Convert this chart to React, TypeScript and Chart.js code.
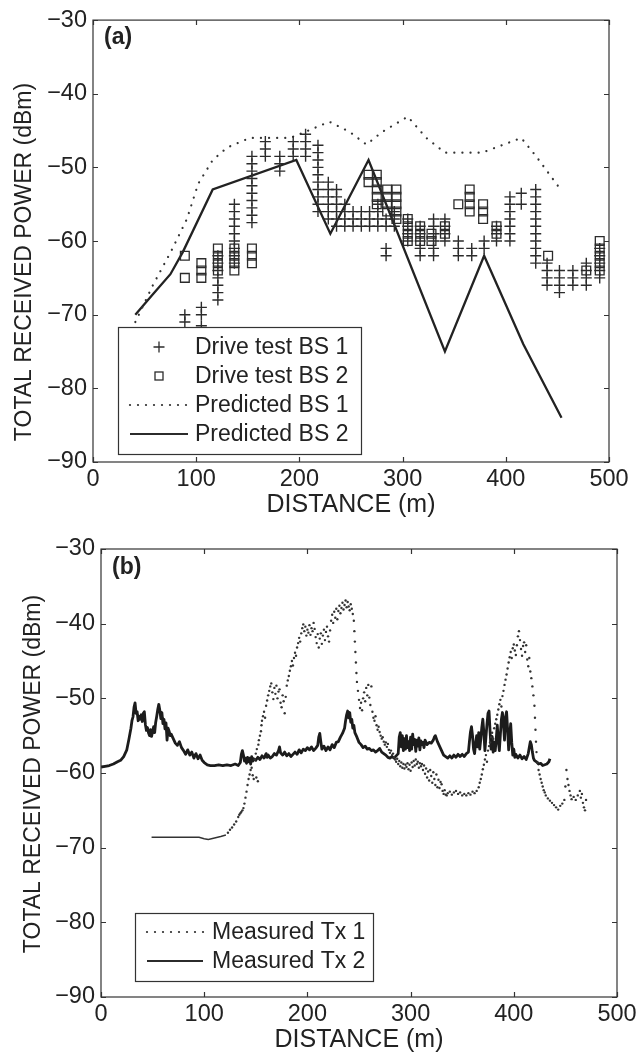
import React, { useEffect, useRef } from "react";
import { Chart, registerables } from "chart.js";
Chart.register(...registerables);

const FONT = '"Liberation Sans", Arial, Helvetica, sans-serif';
const INK = "#222";

// ---------- axes ----------
const distanceTicks = [0, 100, 200, 300, 400, 500];
const powerTicks = [-90, -80, -70, -60, -50, -40, -30];
const xTitle = "DISTANCE (m)";
const yTitle = "TOTAL RECEIVED POWER (dBm)";

// ---------- panel (a) ----------
const driveTestBS1Columns: [number, number[]][] = [
  [89, [-70, -71]],
  [105, [-69, -70, -71.5]],
  [121, [-62, -63, -64, -65, -66, -67, -68]],
  [137, [-55, -56, -57, -58, -59, -60, -61, -62, -63]],
  [154, [-48.5, -49.5, -50.5, -51.5, -52.5, -53.5, -54.5, -55.5, -56.5, -57.5]],
  [167, [-46.5, -47.5, -48.5]],
  [181, [-48.5, -49.5, -50.5]],
  [194, [-46.5, -47.5, -48.5]],
  [206, [-45.5, -46.5, -47.5, -48.5]],
  [218, [-47, -48, -49, -50, -51, -52, -53, -54, -55, -56]],
  [228, [-52, -53, -54, -55, -56, -57]],
  [236, [-53, -54, -55, -56, -57, -58]],
  [244, [-55, -56, -57, -58]],
  [252, [-56, -57, -58]],
  [260, [-56, -57, -58]],
  [268, [-56, -57, -58]],
  [276, [-55, -56, -57, -58]],
  [284, [-57, -58, -61, -62]],
  [292, [-56, -57, -58]],
  [305, [-57, -58, -59, -60]],
  [317, [-58, -59, -60, -61, -62]],
  [330, [-57, -58, -59, -60, -61, -62]],
  [341, [-57, -58, -59, -60]],
  [354, [-60, -61, -62]],
  [367, [-61, -62]],
  [379, [-60, -61]],
  [391, [-58, -59, -60]],
  [404, [-54, -55, -56, -57, -58, -59, -60]],
  [415, [-53.5, -55]],
  [429, [-53, -54, -55, -56, -57, -58, -59, -60, -61, -62, -63]],
  [440, [-63, -64, -65, -66]],
  [452, [-64, -65, -66, -67]],
  [465, [-64, -65, -66]],
  [478, [-63, -64, -65, -66]],
  [491, [-61, -62, -63, -64, -65]],
];

const driveTestBS2Columns: [number, number[]][] = [
  [89, [-62, -65]],
  [105, [-63, -64, -65]],
  [121, [-61, -62, -63, -64]],
  [137, [-61, -62, -63, -64]],
  [154, [-61, -62, -63]],
  [267, [-51, -52]],
  [275, [-51, -52, -53, -54, -55]],
  [285, [-53, -54, -55, -56]],
  [294, [-53, -54, -55, -56, -57]],
  [305, [-57, -58, -59, -60]],
  [317, [-58, -59, -60]],
  [328, [-59, -60]],
  [341, [-58, -59]],
  [354, [-55]],
  [365, [-53, -54, -55, -56]],
  [378, [-55, -56, -57]],
  [391, [-58, -59]],
  [441, [-62]],
  [478, [-64]],
  [491, [-60, -61, -62, -63, -64]],
];

const predictedBS1Distance = [41, 58, 76, 91, 102, 116, 130, 152, 191, 207, 229, 249, 265, 280, 305, 323, 341, 377, 415, 430, 451];
const predictedBS1Power = [-71, -66, -61.3, -57, -52.2, -49, -47.3, -46, -46, -45.1, -43.8, -45.2, -46.9, -45.2, -43.1, -46, -48, -48, -46, -48.6, -52.6];

const predictedBS2Distance = [41, 57, 75, 87, 116, 197, 230, 267, 341, 379, 417, 454];
const predictedBS2Power = [-70, -67.4, -64.5, -61.5, -53, -49, -59, -49, -75, -62, -74, -84];

// ---------- panel (b) ----------
const measuredTx1Flat: [number, number][] = [
  [49, -68.6], [70, -68.6], [95, -68.6], [100, -68.8], [104, -68.9], [110, -68.7], [116, -68.5], [121, -68.3],
];

const measuredTx1: [number, number][] = [
  [123, -68.0], [125, -67.6], [127, -67.3], [129, -66.9], [131, -66.5], [133, -65.9], [134, -65.6], [135, -65.4],
  [136, -65.2], [137, -65.0], [138, -64.7], [139, -64.1], [140, -63.3], [141, -62.5], [142, -61.6], [143, -60.8],
  [144, -60.2], [145, -59.6], [146, -59.3], [147, -60.3], [148, -60.8], [149, -58.2], [150, -57.4], [150.5, -60.6],
  [151, -56.8], [152, -61.1], [152.5, -56.2], [153, -55.6], [154, -55.0], [155, -54.4], [155.5, -53.6], [156, -53.0],
  [157, -52.4], [158, -51.8], [159, -52.6], [160, -51.0], [161, -50.3], [162, -49.6], [163, -49.0], [164, -48.4],
  [165, -48.0], [166, -49.2], [167, -50.1], [168, -48.6], [169, -49.4], [170, -48.3], [171, -50.0], [172, -49.1],
  [173, -48.8], [174, -50.6], [175, -51.2], [176, -49.6], [177, -50.4], [178, -52.0], [179, -49.8], [180, -48.3],
  [181, -47.6], [182, -47.0], [183, -46.3], [184, -45.7], [185, -45.0], [186, -45.6], [187, -44.6], [188, -43.9],
  [189, -44.3], [190, -43.2], [191, -42.6], [192, -41.9], [193, -42.4], [194, -41.3], [195, -40.6], [196, -40.1],
  [197, -41.0], [198, -40.4], [199, -41.6], [200, -40.8], [201, -41.2], [202, -40.2], [203, -41.5], [204, -40.6],
  [205, -41.0], [206, -39.9], [207, -40.7], [208, -41.8], [209, -42.6], [210, -41.4], [211, -43.2], [212, -42.0],
  [213, -41.3], [214, -42.7], [215, -41.6], [216, -40.8], [217, -42.2], [218, -41.1], [219, -40.4], [220, -41.7],
  [221, -42.4], [222, -40.9], [223, -39.6], [224, -38.8], [225, -39.9], [226, -38.4], [227, -39.2], [228, -38.0],
  [229, -39.4], [230, -38.3], [231, -37.6], [232, -38.6], [233, -37.9], [234, -37.2], [235, -38.1], [236, -37.5],
  [237, -36.9], [238, -37.8], [239, -37.1], [240, -37.7], [241, -38.2], [242, -37.4], [243, -38.0], [244, -38.7],
  [245, -39.6], [245.5, -41.0], [246, -42.4], [246.5, -43.8], [247, -45.2], [247.5, -46.6], [248, -47.8], [249, -49.0],
  [250, -50.2], [251, -51.3], [252, -50.6], [253, -51.6], [254, -50.0], [255, -49.2], [256, -50.4], [257, -48.6],
  [258, -49.6], [259, -48.2], [260, -49.9], [261, -50.9], [262, -48.4], [263, -51.8], [264, -52.6], [265, -53.0],
  [266, -52.4], [267, -53.6], [268, -54.2], [269, -53.8], [270, -54.5], [271, -55.0], [272, -55.4], [273, -55.2],
  [274, -55.8], [275, -56.2], [276, -55.9], [277, -56.5], [278, -56.1], [279, -56.9], [280, -57.3], [281, -57.0],
  [282, -57.6], [283, -57.4], [284, -57.9], [285, -58.2], [286, -58.5], [287, -58.1], [288, -58.8], [289, -58.4],
  [290, -59.1], [291, -58.6], [292, -59.3], [293, -58.8], [294, -59.4], [295, -58.9], [296, -59.2], [297, -58.7],
  [298, -59.5], [299, -58.9], [300, -59.7], [301, -58.6], [302, -59.2], [303, -58.4], [304, -59.0], [305, -58.2],
  [306, -58.8], [307, -58.5], [308, -59.3], [309, -58.7], [310, -59.1], [311, -58.8], [312, -59.6], [313, -59.0],
  [314, -60.1], [315, -59.4], [316, -60.6], [317, -59.8], [318, -61.0], [319, -59.6], [320, -60.4], [321, -61.3],
  [322, -59.9], [323, -60.8], [324, -61.6], [325, -60.2], [326, -61.9], [327, -60.9], [328, -62.0], [329, -61.2],
  [330, -61.5], [331, -62.4], [332, -62.8], [333, -62.3], [334, -62.9], [335, -63.0], [336, -62.7], [338, -62.5],
  [340, -62.9], [342, -62.6], [344, -62.4], [346, -62.8], [348, -62.6], [350, -63.0], [352, -62.8], [354, -63.0],
  [356, -62.7], [358, -62.9], [360, -62.5], [362, -62.7], [364, -62.4], [366, -61.9], [367, -61.3], [368, -60.8],
  [369, -60.2], [370, -59.5], [371, -58.9], [372, -58.2], [373, -57.6], [374, -58.5], [375, -57.0], [376, -56.4],
  [377, -55.9], [378, -55.2], [379, -54.6], [380, -55.4], [381, -54.0], [382, -53.4], [383, -52.8], [384, -52.2],
  [385, -51.5], [386, -50.8], [387, -50.2], [388, -51.1], [389, -49.7], [390, -49.0], [391, -48.2], [392, -47.5],
  [393, -46.8], [394, -46.0], [395, -45.2], [396, -44.5], [397, -43.8], [398, -44.6], [399, -43.3], [400, -42.8],
  [401, -43.6], [402, -44.2], [403, -42.9], [404, -41.7], [405, -41.0], [406, -42.2], [407, -43.4], [408, -44.3],
  [409, -43.0], [410, -42.5], [411, -43.8], [412, -42.9], [413, -44.8], [414, -45.7], [415, -44.6], [416, -46.4],
  [417, -47.3], [418, -48.4], [419, -49.6], [420, -51.0], [420.5, -52.6], [421, -54.2], [421.5, -55.8], [422, -57.2],
  [423, -58.6], [424, -59.6], [425, -60.2], [426, -60.8], [427, -61.3], [428, -61.8], [429, -62.3], [430, -62.6],
  [431, -63.0], [433, -63.4], [435, -63.7], [437, -64.0], [439, -64.3], [441, -64.6], [443, -64.9], [445, -64.4],
  [447, -64.1], [449, -63.6], [450, -61.8], [451, -59.6], [452, -60.8], [453, -61.6], [454, -62.4], [455, -63.0],
  [456, -63.5], [458, -63.2], [460, -63.6], [462, -63.0], [464, -62.4], [465, -63.3], [466, -62.8], [467, -64.0],
  [468, -64.6], [469, -65.0], [470, -63.6],
];

const measuredTx2: [number, number][] = [
  [0, -59.2], [4, -59.1], [8, -59.0], [12, -58.8], [16, -58.5], [19, -58.3], [22, -57.8], [25, -56.9], [27, -55.5],
  [29, -54.0], [30, -53.0], [31, -52.5], [32, -51.2], [33, -50.6], [34, -52.0], [35, -51.8], [36, -53.0], [37, -52.4],
  [38, -52.8], [39, -52.2], [40, -53.1], [41, -52.0], [42, -51.8], [43, -53.5], [44, -54.3], [45, -53.9], [46, -54.6],
  [47, -55.0], [48, -54.2], [49, -55.1], [50, -54.4], [51, -53.8], [52, -54.6], [53, -53.2], [54, -52.4], [55, -51.5],
  [56, -50.8], [57, -51.6], [58, -52.7], [59, -51.9], [60, -53.4], [61, -52.8], [62, -54.1], [63, -53.3], [64, -55.6],
  [65, -54.0], [66, -54.4], [67, -55.0], [68, -54.8], [70, -55.4], [72, -56.0], [74, -56.3], [76, -55.8], [78, -56.6],
  [80, -57.0], [82, -57.5], [84, -56.9], [86, -57.6], [88, -57.2], [90, -58.0], [92, -57.4], [94, -58.1], [96, -57.6],
  [98, -58.3], [100, -58.6], [103, -58.9], [106, -59.0], [110, -59.0], [114, -58.9], [118, -59.0], [122, -58.9],
  [126, -59.0], [130, -58.8], [133, -59.0], [135, -58.6], [136, -57.5], [137, -57.0], [138, -57.6], [139, -58.4],
  [140, -58.0], [141, -58.7], [142, -57.9], [143, -58.5], [144, -58.0], [145, -58.8], [146, -57.8], [147, -58.4],
  [148, -58.1], [150, -58.3], [152, -57.9], [154, -58.2], [156, -57.7], [158, -58.0], [160, -57.4], [161, -57.9],
  [162, -57.6], [164, -58.0], [166, -57.8], [168, -57.4], [170, -57.6], [172, -57.0], [173, -56.5], [174, -57.3],
  [176, -57.6], [178, -57.2], [180, -57.7], [182, -57.4], [184, -57.8], [186, -57.5], [188, -57.2], [190, -57.5],
  [192, -56.9], [194, -57.3], [196, -56.8], [198, -57.0], [200, -56.6], [202, -56.9], [204, -56.5], [206, -57.0],
  [208, -56.7], [210, -56.3], [211, -55.2], [212, -54.7], [213, -55.8], [214, -56.8], [216, -56.4], [218, -57.0],
  [220, -56.5], [222, -56.9], [224, -56.2], [226, -56.6], [228, -55.9], [230, -55.8], [232, -55.2], [234, -54.7],
  [236, -54.0], [237, -53.0], [238, -52.2], [239, -51.7], [240, -52.6], [241, -51.9], [242, -53.2], [243, -52.8],
  [244, -54.0], [245, -53.6], [246, -54.6], [248, -55.2], [250, -55.9], [252, -56.2], [254, -56.6], [256, -56.4],
  [258, -56.8], [260, -56.7], [262, -57.0], [264, -56.9], [266, -57.2], [268, -57.0], [270, -56.7], [272, -57.2],
  [274, -57.4], [276, -57.6], [278, -57.9], [280, -58.0], [282, -57.8], [284, -58.0], [286, -57.7], [288, -57.4],
  [289, -55.2], [290, -54.6], [291, -56.5], [292, -55.0], [293, -57.0], [294, -55.4], [295, -56.8], [296, -55.0],
  [297, -56.6], [298, -55.8], [299, -57.0], [300, -55.2], [301, -56.8], [302, -54.8], [303, -56.2], [304, -55.5],
  [305, -57.1], [306, -55.6], [307, -56.4], [308, -55.3], [309, -56.9], [310, -55.7], [311, -56.2], [312, -55.9],
  [313, -56.6], [314, -55.6], [316, -56.2], [318, -55.9], [320, -56.0], [322, -55.6], [323, -55.2], [324, -55.0],
  [325, -55.4], [326, -55.8], [328, -56.4], [330, -57.0], [332, -57.6], [334, -57.8], [336, -58.0], [338, -57.7],
  [340, -58.0], [342, -57.6], [344, -57.9], [346, -57.5], [348, -57.8], [350, -57.5], [352, -57.8], [354, -57.4],
  [356, -57.2], [357, -55.8], [358, -54.5], [359, -53.8], [360, -55.0], [361, -56.8], [362, -57.4], [363, -56.0],
  [364, -55.0], [365, -56.5], [366, -54.6], [367, -56.8], [368, -55.5], [369, -53.9], [370, -52.8], [371, -54.6],
  [372, -57.0], [373, -55.2], [374, -53.5], [375, -52.0], [376, -51.7], [377, -54.4], [378, -56.8], [379, -55.1],
  [380, -57.2], [381, -55.9], [382, -57.0], [383, -55.4], [384, -53.6], [385, -55.8], [386, -57.0], [387, -54.8],
  [388, -52.8], [389, -51.9], [390, -53.5], [391, -55.6], [392, -52.5], [393, -51.8], [394, -54.2], [395, -56.9],
  [396, -55.0], [397, -53.4], [398, -55.9], [399, -57.6], [400, -56.8], [401, -57.9], [402, -57.5], [404, -58.0],
  [406, -57.6], [408, -58.1], [410, -57.8], [412, -58.2], [414, -57.4], [415, -56.6], [416, -55.8], [417, -56.2],
  [418, -57.2], [419, -58.0], [420, -58.3], [422, -58.5], [424, -58.8], [426, -58.7], [428, -59.0], [430, -58.9],
  [432, -58.8], [434, -58.5], [435, -58.1],
];

// ---------- helpers ----------
const toPoints = (xs: number[], ys: number[]) => xs.map((x, i) => ({ x, y: ys[i] }));
const pairsToPoints = (p: [number, number][]) => p.map(([x, y]) => ({ x, y }));
const columnsToPoints = (cols: [number, number[]][]) => {
  const out: { x: number; y: number }[] = [];
  cols.forEach(([x, ys]) => ys.forEach((y) => out.push({ x, y })));
  return out;
};
const minusLabel = (v: any) => String(v).replace("-", "\u2212");

type LegendRow = { type: "cross" | "square" | "dotted" | "solid"; text: string; y: number };

const framePlugin = {
  id: "frame",
  afterDatasetsDraw(chart: any, _args: any, opts: any) {
    const { ctx, chartArea: a, scales } = chart;
    ctx.save();
    ctx.strokeStyle = "#333";
    ctx.lineWidth = 1.2;
    ctx.strokeRect(a.left, a.top, a.right - a.left, a.bottom - a.top);
    const tl = 5;
    ctx.beginPath();
    distanceTicks.forEach((v) => {
      const x = Math.round(scales.x.getPixelForValue(v)) + 0.5;
      ctx.moveTo(x, a.bottom);
      ctx.lineTo(x, a.bottom - tl);
      ctx.moveTo(x, a.top);
      ctx.lineTo(x, a.top + tl);
    });
    powerTicks.forEach((v) => {
      const y = Math.round(scales.y.getPixelForValue(v)) + 0.5;
      ctx.moveTo(a.left, y);
      ctx.lineTo(a.left + tl, y);
      ctx.moveTo(a.right, y);
      ctx.lineTo(a.right - tl, y);
    });
    ctx.stroke();

    // y-axis title (placed like the figure, not strictly centred)
    ctx.fillStyle = INK;
    ctx.font = `23px ${FONT}`;
    ctx.textAlign = "center";
    ctx.textBaseline = "middle";
    ctx.save();
    ctx.translate(opts.yTitleX, opts.yTitleY);
    ctx.rotate(-Math.PI / 2);
    ctx.fillText(yTitle, 0, 0);
    ctx.restore();

    // panel label
    ctx.fillStyle = INK;
    ctx.font = `bold 23px ${FONT}`;
    ctx.textBaseline = "middle";
    ctx.textAlign = "left";
    ctx.fillText(opts.label, a.left + 11, a.top + opts.labelDy);

    // legend
    const L = opts.legend;
    ctx.fillStyle = "#fff";
    ctx.fillRect(L.x, L.y, L.w, L.h);
    ctx.strokeStyle = "#333";
    ctx.lineWidth = 1.2;
    ctx.strokeRect(L.x + 0.5, L.y + 0.5, L.w, L.h);
    L.rows.forEach((r: LegendRow) => {
      const cx = (L.s0 + L.s1) / 2;
      ctx.strokeStyle = "#2b2b2b";
      ctx.fillStyle = "#2b2b2b";
      if (r.type === "cross") {
        ctx.lineWidth = 1.3;
        ctx.beginPath();
        ctx.moveTo(cx - 5.5, r.y);
        ctx.lineTo(cx + 5.5, r.y);
        ctx.moveTo(cx, r.y - 5.5);
        ctx.lineTo(cx, r.y + 5.5);
        ctx.stroke();
      } else if (r.type === "square") {
        ctx.lineWidth = 1.3;
        ctx.strokeRect(cx - 4, r.y - 4, 8, 8);
      } else if (r.type === "dotted") {
        for (let x = L.s0; x <= L.s1; x += 8) {
          ctx.beginPath();
          ctx.arc(x, r.y, 1.1, 0, Math.PI * 2);
          ctx.fill();
        }
      } else {
        ctx.lineWidth = 2.2;
        ctx.beginPath();
        ctx.moveTo(L.s0, r.y);
        ctx.lineTo(L.s1, r.y);
        ctx.stroke();
      }
      ctx.fillStyle = INK;
      ctx.font = `23px ${FONT}`;
      ctx.textAlign = "left";
      ctx.textBaseline = "middle";
      ctx.fillText(r.text, L.tx, r.y + 1);
    });
    ctx.restore();
  },
};

function makeScales(yAxisWidth: number) {
  return {
    x: {
      type: "linear",
      min: 0,
      max: 500,
      afterFit: (s: any) => {
        s.height = 58;
      },
      grid: { display: false, drawTicks: false },
      border: { display: false },
      ticks: { stepSize: 100, padding: 3, color: INK, font: { size: 23.5, family: FONT } },
      title: {
        display: true,
        text: xTitle,
        color: INK,
        font: { size: 25, family: FONT, lineHeight: 1 },
        padding: { top: 0, bottom: 2 },
      },
    },
    y: {
      type: "linear",
      min: -90,
      max: -30,
      afterFit: (s: any) => {
        s.width = yAxisWidth;
      },
      grid: { display: false, drawTicks: false },
      border: { display: false },
      ticks: { stepSize: 10, padding: 6, color: INK, font: { size: 23.5, family: FONT }, callback: minusLabel },
      title: { display: false },
    },
  };
}

function configA(): any {
  return {
    type: "scatter",
    data: {
      datasets: [
        {
          label: "Drive test BS 1",
          data: columnsToPoints(driveTestBS1Columns),
          showLine: false,
          pointStyle: "cross",
          pointRadius: 5.5,
          pointBorderColor: "#2b2b2b",
          pointBorderWidth: 1.4,
        },
        {
          label: "Drive test BS 2",
          data: columnsToPoints(driveTestBS2Columns),
          showLine: false,
          pointStyle: "rect",
          pointRadius: 6.2,
          pointBorderColor: "#2b2b2b",
          pointBackgroundColor: "rgba(0,0,0,0)",
          pointBorderWidth: 1.3,
        },
        {
          label: "Predicted BS 1",
          data: toPoints(predictedBS1Distance, predictedBS1Power),
          showLine: true,
          pointRadius: 0,
          borderColor: "#333",
          borderWidth: 2.2,
          borderDash: [0.1, 8],
          borderCapStyle: "round",
        },
        {
          label: "Predicted BS 2",
          data: toPoints(predictedBS2Distance, predictedBS2Power),
          showLine: true,
          pointRadius: 0,
          borderColor: "#222",
          borderWidth: 2.3,
        },
      ],
    },
    options: {
      responsive: false,
      animation: false,
      events: [],
      layout: { padding: { top: 14, right: 33, left: 0, bottom: 0 } },
      plugins: {
        legend: { display: false },
        tooltip: { enabled: false },
        frame: {
          label: "(a)",
          labelDy: 18,
          yTitleX: 25,
          yTitleY: 262,
          legend: {
            x: 118, y: 327, w: 243, h: 127, s0: 130, s1: 188, tx: 195,
            rows: [
              { type: "cross", text: "Drive test BS 1", y: 347 },
              { type: "square", text: "Drive test BS 2", y: 376 },
              { type: "dotted", text: "Predicted BS 1", y: 405 },
              { type: "solid", text: "Predicted BS 2", y: 434 },
            ],
          },
        },
      },
      scales: makeScales(93),
    },
    plugins: [framePlugin],
  };
}

function configB(): any {
  return {
    type: "scatter",
    data: {
      datasets: [
        {
          label: "Measured Tx 1",
          data: pairsToPoints(measuredTx1),
          showLine: false,
          pointStyle: "circle",
          pointRadius: 1.2,
          pointBorderWidth: 0,
          pointBackgroundColor: "#333",
        },
        {
          label: "Measured Tx 1 (dense)",
          data: pairsToPoints(measuredTx1Flat),
          showLine: true,
          pointRadius: 0,
          borderColor: "#333",
          borderWidth: 1.4,
        },
        {
          label: "Measured Tx 2",
          data: pairsToPoints(measuredTx2),
          showLine: true,
          pointRadius: 0,
          borderColor: "#1c1c1c",
          borderWidth: 2.8,
          borderJoinStyle: "round",
        },
      ],
    },
    options: {
      responsive: false,
      animation: false,
      events: [],
      layout: { padding: { top: 24, right: 25, left: 0, bottom: 0 } },
      plugins: {
        legend: { display: false },
        tooltip: { enabled: false },
        frame: {
          label: "(b)",
          labelDy: 19,
          yTitleX: 34,
          yTitleY: 249,
          legend: {
            x: 135, y: 388, w: 238, h: 68, s0: 147, s1: 203, tx: 212,
            rows: [
              { type: "dotted", text: "Measured Tx 1", y: 407 },
              { type: "solid", text: "Measured Tx 2", y: 436 },
            ],
          },
        },
      },
      scales: makeScales(101),
    },
    plugins: [framePlugin],
  };
}

function Panel({ make, top, height }: { make: () => any; top: number; height: number }) {
  const ref = useRef<HTMLCanvasElement | null>(null);
  useEffect(() => {
    const chart = new Chart(ref.current as HTMLCanvasElement, make());
    return () => chart.destroy();
  }, []);
  return (
    <canvas
      ref={ref}
      width={642}
      height={height}
      style={{ position: "absolute", left: 0, top, width: 642, height, display: "block" }}
    />
  );
}

export default function App() {
  return (
    <div style={{ position: "absolute", left: 0, top: 0, width: 642, height: 1055, background: "#fff", overflow: "hidden" }}>
      <Panel make={configA} top={0} height={520} />
      <Panel make={configB} top={525} height={530} />
    </div>
  );
}
